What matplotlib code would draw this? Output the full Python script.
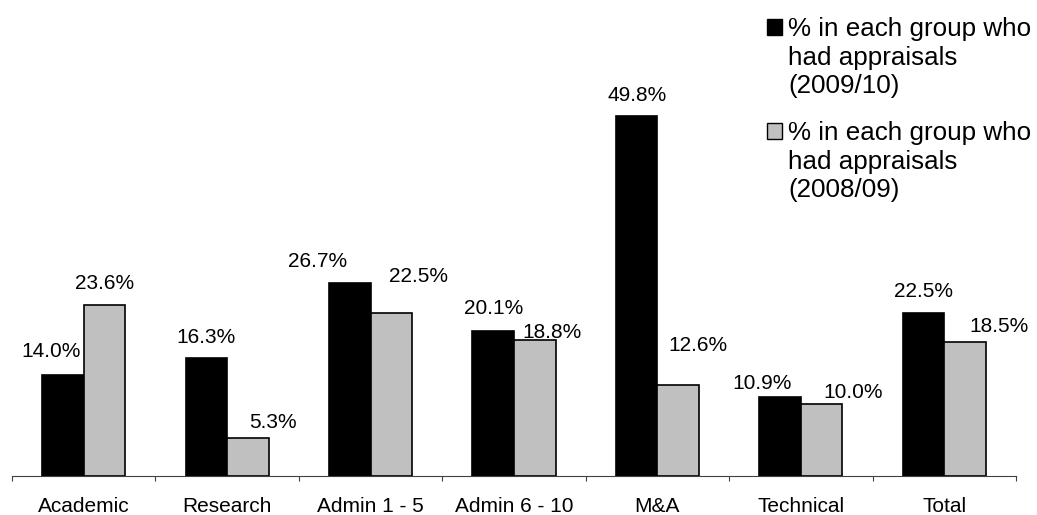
import matplotlib.pyplot as plt
import matplotlib.patches as mpatches
import numpy as np

# data
categories = ['Academic', 'Research', 'Admin 1 - 5', 'Admin 6 - 10', 'M&A', 'Technical', 'Total']
pct_2009_10 = [14.0, 16.3, 26.7, 20.1, 49.8, 10.9, 22.5]
pct_2008_09 = [23.6, 5.3, 22.5, 18.8, 12.6, 10.0, 18.5]
legend_labels = ['% in each group who\nhad appraisals\n(2009/10)',
                 '% in each group who\nhad appraisals\n(2008/09)']

# data label nudges in pixels (dx, dy above bar top), placed by hand like the original
off_black = [(-12, 18), (0, 15), (-32, 16), (0, 17), (0, 15), (-18, 8), (0, 16)]
off_grey = [(0, 16), (25, 10), (27, 31), (17, 2), (20, 34), (31, 6), (34, 10)]

plt.rcParams['font.family'] = ['Liberation Sans', 'DejaVu Sans']

W, H = 1037, 515
fig = plt.figure(figsize=(W / 100, H / 100), dpi=100)
ax = fig.add_axes([12 / W, 39 / H, 1004 / W, 361.5 / H])

x = np.arange(len(categories))
w = 0.29
bars1 = ax.bar(x - w / 2, pct_2009_10, w, color='black', edgecolor='black', linewidth=1.2)
bars2 = ax.bar(x + w / 2, pct_2008_09, w, color='#C0C0C0', edgecolor='black', linewidth=1.2)

ax.set_xlim(-0.5, len(categories) - 0.5)
ax.set_ylim(0, 50)

# value labels
for bars, vals, offs in [(bars1, pct_2009_10, off_black), (bars2, pct_2008_09, off_grey)]:
    for rect, v, (dx, dy) in zip(bars, vals, offs):
        ax.annotate(f'{v:.1f}%', xy=(rect.get_x() + rect.get_width() / 2, v),
                    xytext=(dx * 0.72, dy * 0.72), textcoords='offset points',
                    ha='center', va='baseline', fontsize=15, annotation_clip=False)

# axis styling
for s in ['top', 'left', 'right']:
    ax.spines[s].set_visible(False)
ax.spines['bottom'].set_color('#404040')
ax.spines['bottom'].set_linewidth(0.8)
ax.set_yticks([])
ax.set_xticks(np.arange(-0.5, len(categories), 1))
ax.set_xticklabels([])
ax.set_xticks(x, minor=True)
ax.set_xticklabels(categories, minor=True, fontsize=15)
ax.tick_params(axis='x', which='major', direction='out', length=3.6, width=0.8, color='#404040')
ax.tick_params(axis='x', which='minor', length=0, pad=15)

# legend (square marker beside the first line of each entry)
for i, (lab, fc) in enumerate(zip(legend_labels, ['black', '#C0C0C0'])):
    base = 36 + i * 104
    fig.add_artist(mpatches.Rectangle((767 / W, 1 - (base - 1) / H), 15 / W, 16 / H,
                                      transform=fig.transFigure, facecolor=fc,
                                      edgecolor='black', linewidth=1.0))
    fig.text(788 / W, 1 - (base - 19) / H, lab, fontsize=18.7, va='top', ha='left',
             linespacing=1.25)

fig.savefig('out.png', dpi=100)
